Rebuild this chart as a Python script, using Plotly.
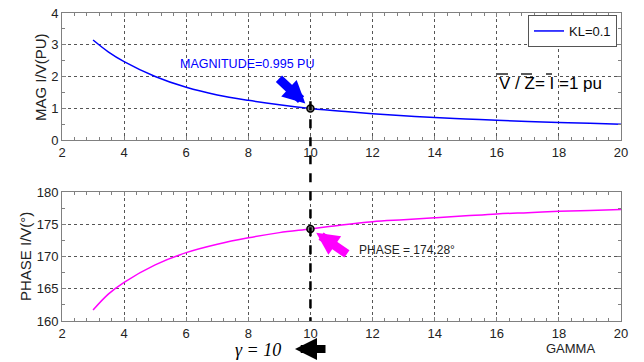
import plotly.graph_objects as go

gamma = [3, 3.5, 4, 5, 6, 7, 8, 9, 10, 11, 12, 13, 14, 15, 16, 17, 18, 19, 20]
magnitude = [3.15, 2.77, 2.47, 2.0, 1.66, 1.42, 1.25, 1.11, 0.995, 0.905, 0.83,
             0.765, 0.71, 0.665, 0.62, 0.585, 0.555, 0.525, 0.50]
phase = [161.7, 164.2, 166.0, 168.7, 170.6, 171.9, 172.9, 173.7, 174.28, 174.9,
         175.4, 175.7, 176.0, 176.3, 176.6, 176.8, 177.0, 177.15, 177.3]
sel_gamma = [10]
sel_mag = [0.995]
sel_phase = [174.28]
x_ticks = [2, 4, 6, 8, 10, 12, 14, 16, 18, 20]

W, H = 644, 362


def px(x):
    return x / W


def py(y):
    return 1 - y / H


xdom = [px(62), px(621)]
ydom_top = [py(140), py(13)]
ydom_bot = [py(321), py(192)]

fig = go.Figure()
fig.add_trace(go.Scatter(x=gamma, y=magnitude, mode="lines", name="KL=0.1",
                         line=dict(color="#0000ff", width=1.5, shape="spline"),
                         xaxis="x", yaxis="y"))
fig.add_trace(go.Scatter(x=gamma, y=phase, mode="lines", showlegend=False,
                         line=dict(color="#ff00ff", width=1.5, shape="spline"),
                         xaxis="x2", yaxis="y2"))
fig.add_trace(go.Scatter(x=sel_gamma, y=sel_mag, mode="markers", showlegend=False,
                         marker=dict(size=7, color="#808080", line=dict(color="black", width=1.5)),
                         xaxis="x", yaxis="y"))
fig.add_trace(go.Scatter(x=sel_gamma, y=sel_phase, mode="markers", showlegend=False,
                         marker=dict(size=7, color="#808080", line=dict(color="black", width=1.5)),
                         xaxis="x2", yaxis="y2"))

axis_common = dict(showline=True, linecolor="#808080", linewidth=1, mirror="ticks",
                   ticks="inside", ticklen=4, tickcolor="#808080", automargin=False,
                   showgrid=True, gridcolor="#555555", griddash="dot", gridwidth=1,
                   zeroline=False, tickfont=dict(family="Arial", size=13, color="#222222"))
minor_x = dict(dtick=0.4, ticks="inside", ticklen=3, tickcolor="#808080", showgrid=False)

fig.update_layout(
    width=W, height=H, margin=dict(l=0, r=0, t=0, b=0, autoexpand=False),
    paper_bgcolor="white", plot_bgcolor="white",
    xaxis=dict(domain=xdom, range=[2, 20], anchor="y", tickvals=x_ticks, minor=minor_x, **axis_common),
    yaxis=dict(domain=ydom_top, range=[0, 4], anchor="x", dtick=1,
               minor=dict(dtick=0.5, ticks="inside", ticklen=3, tickcolor="#808080", showgrid=False),
               **axis_common),
    xaxis2=dict(domain=xdom, range=[2, 20], anchor="y2", tickvals=x_ticks, minor=minor_x, **axis_common),
    yaxis2=dict(domain=ydom_bot, range=[160, 180], anchor="x2", dtick=5,
                minor=dict(dtick=2.5, ticks="inside", ticklen=3, tickcolor="#808080", showgrid=False),
                **axis_common),
    legend=dict(x=px(617), y=py(15), xanchor="right", yanchor="top",
                bgcolor="white", bordercolor="#555555", borderwidth=1,
                font=dict(family="Arial", size=13, color="#111111"),
                itemwidth=30, tracegroupgap=0),
    showlegend=True,
)

# vertical dashed line from magnitude marker to bottom axis
ytop_paper = ydom_top[0] + (sel_mag[0] - 0) / 4 * (ydom_top[1] - ydom_top[0])
fig.add_shape(type="line", xref="x", yref="paper", x0=sel_gamma[0], x1=sel_gamma[0],
              y0=ytop_paper + 0.02, y1=ydom_bot[0],
              line=dict(color="black", width=2.5, dash="dash"))

# overlines for V, Z, I in "V / Z= I =1 pu"
eq_x0, eq_y, eq_fs = 497, 84, 17
over = [(497, 508), (521, 532), (546, 552)]
for a, b in over:
    fig.add_shape(type="line", xref="paper", yref="paper", x0=px(a), x1=px(b),
                  y0=py(74), y1=py(74), line=dict(color="black", width=1.3))

annotations = [
    dict(x=sel_gamma[0], y=sel_mag[0], xref="x", yref="y", ax=-33, ay=-31,
         showarrow=True, arrowhead=2, arrowsize=0.5, arrowwidth=9, arrowcolor="#0000ff",
         standoff=7, text=""),
    dict(x=px(178), y=py(64), xref="paper", yref="paper", xanchor="left", yanchor="middle",
         text="MAGNITUDE=0.995 PU", showarrow=False,
         font=dict(family="Arial", size=12.5, color="#0000ff")),
    dict(x=px(eq_x0), y=py(eq_y), xref="paper", yref="paper", xanchor="left", yanchor="middle",
         text="V / Z= I =1 pu", showarrow=False,
         font=dict(family="Arial", size=eq_fs, color="black")),
    dict(x=sel_gamma[0], y=sel_phase[0], xref="x2", yref="y2", ax=38, ay=26,
         showarrow=True, arrowhead=2, arrowsize=0.5, arrowwidth=9, arrowcolor="#ff00ff",
         standoff=7, text=""),
    dict(x=px(357), y=py(250), xref="paper", yref="paper", xanchor="left", yanchor="middle",
         text="PHASE = 174.28°", showarrow=False,
         font=dict(family="Arial", size=12, color="#222222")),
    dict(x=px(258), y=py(350), xref="paper", yref="paper", xanchor="center", yanchor="middle",
         text="<i>γ = 10</i>", showarrow=False,
         font=dict(family="Times New Roman", size=18, color="black")),
    dict(x=px(295), y=py(349), xref="paper", yref="paper", ax=32, ay=0,
         showarrow=True, arrowhead=2, arrowsize=0.55, arrowwidth=8, arrowcolor="black", text=""),
    dict(x=px(570), y=py(348), xref="paper", yref="paper", xanchor="center", yanchor="middle",
         text="GAMMA", showarrow=False,
         font=dict(family="Arial", size=13, color="#222222")),
    dict(x=px(40), y=py(77), xref="paper", yref="paper", xanchor="center", yanchor="middle",
         text="MAG I/V(PU)", textangle=-90, showarrow=False,
         font=dict(family="Arial", size=15, color="#222222")),
    dict(x=px(25), y=py(256), xref="paper", yref="paper", xanchor="center", yanchor="middle",
         text="PHASE I/V(°)", textangle=-90, showarrow=False,
         font=dict(family="Arial", size=15, color="#222222")),
]
fig.update_layout(annotations=annotations)

# remove the default 8px page margin so the 644x362 figure fills the window
fig.write_html("out.html", config={"displayModeBar": False},
               post_script="document.body.style.margin='0';")
